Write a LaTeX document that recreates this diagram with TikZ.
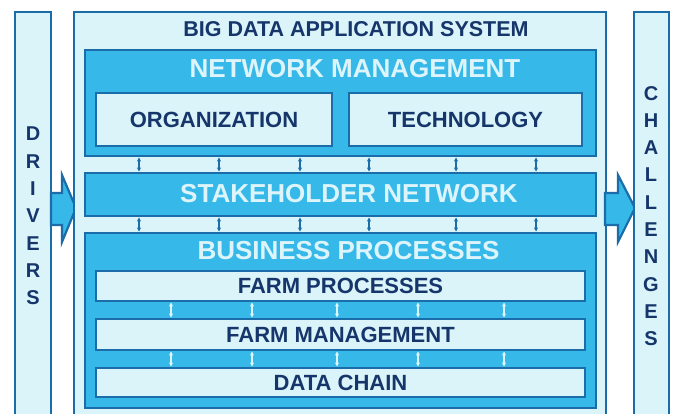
\documentclass[tikz,border=0pt]{standalone}
\usepackage{fontspec}
\setmainfont{Liberation Sans}
\usetikzlibrary{arrows.meta}
\definecolor{lightfill}{HTML}{DAF4F9}
\definecolor{midfill}{HTML}{36B9E9}
\definecolor{edge}{HTML}{1A6DA8}
\definecolor{navy}{HTML}{16366B}
\definecolor{paletext}{HTML}{DDF5FA}
\tikzset{
  panel/.style={draw=edge, line width=2.6pt, fill=lightfill, inner sep=0pt, outer sep=0pt, anchor=north west},
  band/.style={draw=edge, line width=2.6pt, fill=midfill, inner sep=0pt, outer sep=0pt, anchor=north west},
  inbox/.style={draw=edge, line width=2.6pt, fill=lightfill, inner sep=0pt, outer sep=0pt, anchor=north west, text=navy, font=\bfseries\fontsize{22}{24}\selectfont},
  headtext/.style={text=paletext, font=\bfseries\fontsize{26}{28}\selectfont, inner sep=0pt},
  darklink/.style={draw=edge, line width=1.2pt, {Stealth[length=4pt,width=4pt]}-{Stealth[length=4pt,width=4pt]}},
  palelink/.style={draw=paletext, line width=1.2pt, {Stealth[length=4pt,width=4pt]}-{Stealth[length=4pt,width=4pt]}},
  blockarrow/.style={draw=edge, line width=2.2pt, fill=midfill, line join=miter},
  vtext/.style={text=navy, font=\bfseries\fontsize{20}{27.3}\selectfont, align=center, inner sep=0pt}
}
\begin{document}
\begin{tikzpicture}[x=1pt,y=-1pt]
\useasboundingbox (0,0) rectangle (675,414);
\clip (0,0) rectangle (675,414);
\fill[white] (0,0) rectangle (675,414);
% side bars
\node[panel, minimum width=36pt, minimum height=420pt] (drivers) at (15,12) {};
\node[vtext] (drvtxt) at (33,216) {D\\R\\I\\V\\E\\R\\S};
% left block arrow
\draw[blockarrow] (51,193) -- (62,193) -- (62,175) -- (76,208) -- (62,242) -- (62,225) -- (51,225) -- cycle;
% main box
\node[panel, minimum width=532pt, minimum height=420pt] (main) at (74,12) {};
\node[text=navy, font=\bfseries\fontsize{21.5}{24}\selectfont, inner sep=0pt] (title) at (356,29) {BIG DATA APPLICATION SYSTEM};
% right block arrow
\draw[blockarrow] (605,193) -- (618,193) -- (618,175) -- (635,208) -- (618,242) -- (618,225) -- (605,225) -- cycle;
\node[panel, minimum width=35pt, minimum height=420pt] (challenges) at (634,12) {};
\node[vtext] (chtxt) at (651,216) {C\\H\\A\\L\\L\\E\\N\\G\\E\\S};
% network management
\node[band, minimum width=511pt, minimum height=106pt] (nm) at (85,50) {};
\node[headtext] (nmtxt) at (355,69) {NETWORK MANAGEMENT};
\node[inbox, minimum width=236pt, minimum height=53pt] (org) at (96,93) {ORGANIZATION};
\node[inbox, minimum width=233pt, minimum height=53pt] (tech) at (349,93) {TECHNOLOGY};
% stakeholder network
\node[band, minimum width=511pt, minimum height=43pt] (sn) at (85,173) {};
\node[headtext] (sntxt) at (349,194) {STAKEHOLDER NETWORK};
% business processes
\node[band, minimum width=511pt, minimum height=175pt] (bp) at (85,233) {};
\node[headtext] (bptxt) at (348.5,251) {BUSINESS PROCESSES};
\node[inbox, minimum width=489pt, minimum height=30pt] (fp) at (96,271) {FARM PROCESSES};
\node[inbox, minimum width=489pt, minimum height=31pt] (fm) at (96,319) {FARM MANAGEMENT};
\node[inbox, minimum width=489pt, minimum height=29pt] (dc) at (96,368) {DATA CHAIN};
% links
\foreach \xx in {139,219,300,369,456,536}{
  \draw[darklink] ([yshift=-1.5pt]nm.south -| \xx,0) -- ([yshift=1.5pt]sn.north -| \xx,0);
  \draw[darklink] ([yshift=-1.5pt]sn.south -| \xx,0) -- ([yshift=1.5pt]bp.north -| \xx,0);
}
\foreach \xx in {171,252,337,418,504}{
  \draw[palelink] ([yshift=-1.5pt]fp.south -| \xx,0) -- ([yshift=1.5pt]fm.north -| \xx,0);
  \draw[palelink] ([yshift=-1.5pt]fm.south -| \xx,0) -- ([yshift=1.5pt]dc.north -| \xx,0);
}
\end{tikzpicture}
\end{document}
